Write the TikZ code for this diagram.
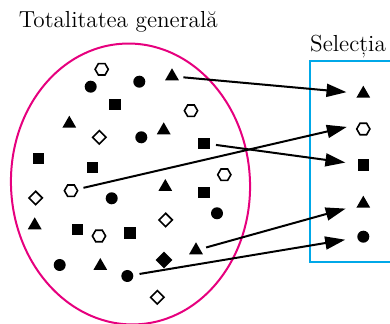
\documentclass[tikz,border=0pt]{standalone}
\usetikzlibrary{arrows.meta,shapes.geometric}
\definecolor{popmagenta}{HTML}{E6007E}
\definecolor{selcyan}{HTML}{00A8E8}
\tikzset{
    every node/.style={font=\fontsize{11.6}{14}\selectfont},
    dot/.style={circle,fill,inner sep=0pt,minimum size=6pt},
    sqr/.style={rectangle,fill,inner sep=0pt,minimum size=5.6pt},
    tri/.style={regular polygon,regular polygon sides=3,fill,inner sep=0pt,minimum size=8pt},
    hexa/.style={regular polygon,regular polygon sides=6,draw,line width=0.8pt,inner sep=0pt,minimum size=6.6pt},
    rhomb/.style={diamond,draw,line width=0.8pt,inner sep=0pt,minimum size=7pt},
    rhombfull/.style={diamond,fill,inner sep=0pt,minimum size=8.6pt},
    pick/.style={draw,line width=1pt,-{Triangle[length=10pt,width=6.5pt]},shorten <=3pt,shorten >=6pt}
}
\begin{document}
\begin{tikzpicture}[x=0.5pt,y=-0.5pt]
\useasboundingbox (0,0) rectangle (390,324);
\clip (0,0) rectangle (390,324);
\draw[popmagenta,line width=1pt,rotate around={3:(130.5,184)}] (130.5,184) ellipse [x radius=119.5,y radius=140.5];
\draw[selcyan,line width=1pt] (310,60.7) rectangle (396,262.3);
\node (popname) at (118.3,21.5) {Totalitatea generală};
\node (selname) at (348,47) {Selecția};

\node[hexa] (h1) at (101.7,69.3) {};
\node[dot] (c1) at (90.7,86.7) {};
\node[dot] (c2) at (139.3,81.7) {};
\node[tri] (t1) at (172,76.3) {};
\node[sqr] (q1) at (115,104.3) {};
\node[hexa] (h2) at (191,110.7) {};
\node[tri] (t2) at (69.3,123.7) {};
\node[rhomb] (d1) at (99.3,137.3) {};
\node[dot] (c3) at (141.3,137.3) {};
\node[tri] (t3) at (163.7,130.3) {};
\node[sqr] (q2) at (204,143.3) {};
\node[sqr] (q3) at (38.7,158.3) {};
\node[sqr] (q4) at (92.3,167.3) {};
\node[hexa] (h3) at (224.3,174.7) {};
\node[hexa] (h4) at (71,190.7) {};
\node[tri] (t4) at (165.3,187) {};
\node[rhomb] (d2) at (35.7,198) {};
\node[dot] (c4) at (111.7,198.3) {};
\node[sqr] (q5) at (204,192.7) {};
\node[dot] (c5) at (217,213.3) {};
\node[rhomb] (d3) at (165.7,220) {};
\node[tri] (t5) at (34.7,225.3) {};
\node[sqr] (q6) at (77.3,229.3) {};
\node[hexa] (h5) at (99,236) {};
\node[sqr] (q7) at (130,233) {};
\node[tri] (t6) at (196,250.3) {};
\node[rhombfull] (d4) at (164,260) {};
\node[dot] (c6) at (59.7,265) {};
\node[tri] (t7) at (100.3,266) {};
\node[dot] (c7) at (127.3,276) {};
\node[rhomb] (d5) at (157.3,297.3) {};

\node[tri] (s1) at (363.3,93.7) {};
\node[hexa] (s2) at (363.3,129) {};
\node[sqr] (s3) at (363.3,165) {};
\node[tri] (s4) at (363.3,203.7) {};
\node[dot] (s5) at (363.3,236.7) {};

\draw[pick] (t1) -- (s1);
\draw[pick] (h4) -- (s2.north west);
\draw[pick] (q2) -- (s3);
\draw[pick] (t6) -- (s4);
\draw[pick] (c7) -- (s5);
\end{tikzpicture}
\end{document}
